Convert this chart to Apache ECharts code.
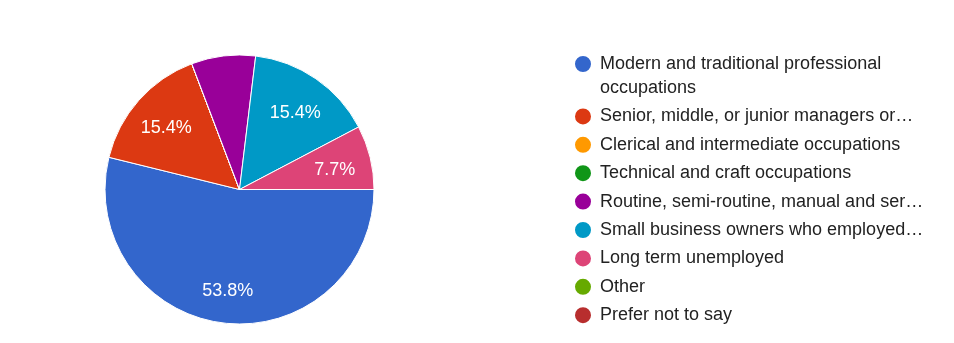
<!DOCTYPE html>
<html><head><meta charset="utf-8">
<script src="https://cdn.jsdelivr.net/npm/echarts@6/dist/echarts.min.js"></script>
<style>html,body{margin:0;padding:0;background:#fff}#c{width:954px;height:343px}</style>
</head><body><div id="c"></div>
<script>
const categories = [
  'Modern and traditional professional occupations',
  'Senior, middle, or junior managers or administrators',
  'Clerical and intermediate occupations',
  'Technical and craft occupations',
  'Routine, semi-routine, manual and service occupations',
  'Small business owners who employed less than 25 people',
  'Long term unemployed',
  'Other',
  'Prefer not to say'
];
const counts = [7, 2, 0, 0, 1, 2, 1, 0, 0];
const colors = ['#3366cc','#dc3912','#ff9900','#109618','#990099','#0099c6','#dd4477','#66aa00','#b82e2e'];
const hiddenLabels = ['Routine, semi-routine, manual and service occupations'];
const wrappedLegend = ['Modern and traditional professional occupations'];

const FONT = '"Liberation Sans", Arial, sans-serif';
const LEGEND_TEXT_WIDTH = 324;
const chart = echarts.init(document.getElementById('c'), null, {renderer: 'canvas'});

const pieData = categories.map((n, i) => ({name: n, value: counts[i]}));
const labelData = categories.map((n, i) => ({
  name: n, value: counts[i],
  label: {show: counts[i] > 0 && hiddenLabels.indexOf(n) < 0}
}));

const measureCtx = document.createElement('canvas').getContext('2d');
measureCtx.font = '18px ' + FONT;
function fitText(name) {
  if (measureCtx.measureText(name).width <= LEGEND_TEXT_WIDTH) return name;
  let t = name;
  while (t.length > 1 && measureCtx.measureText(t + '…').width > LEGEND_TEXT_WIDTH) {
    t = t.slice(0, -1);
  }
  return t.replace(/\s+$/, '') + '…';
}
function legendFormat(name) {
  if (wrappedLegend.indexOf(name) >= 0) return '\n' + name;
  return fitText(name);
}

chart.setOption({
  backgroundColor: '#ffffff',
  color: colors,
  animation: false,
  legend: {
    orient: 'vertical',
    left: 573,
    top: 28,
    padding: 0,
    itemGap: 4.4,
    itemWidth: 24,
    itemHeight: 18,
    icon: 'circle',
    formatter: legendFormat,
    textStyle: {fontFamily: FONT, fontSize: 18, color: '#222222', lineHeight: 24},
    data: categories.map(n => wrappedLegend.indexOf(n) >= 0
      ? {name: n, textStyle: {width: LEGEND_TEXT_WIDTH, overflow: 'break'}}
      : {name: n})
  },
  series: [
    {
      type: 'pie',
      center: [239.5, 189.5],
      radius: 134.5,
      startAngle: 0,
      clockwise: true,
      percentPrecision: 1,
      label: {show: false},
      labelLine: {show: false},
      itemStyle: {borderColor: '#ffffff', borderWidth: 1},
      emphasis: {disabled: true},
      data: pieData
    },
    {
      type: 'pie',
      center: [239.5, 189.5],
      radius: [0, 190],
      startAngle: 0,
      clockwise: true,
      percentPrecision: 1,
      silent: true,
      itemStyle: {color: 'rgba(0,0,0,0)', borderWidth: 0},
      label: {
        show: true, position: 'inside', formatter: '{d}%',
        color: '#ffffff', fontFamily: FONT, fontSize: 18, offset: [0, 4]
      },
      labelLine: {show: false},
      emphasis: {disabled: true},
      data: labelData
    }
  ]
});
</script></body></html>
